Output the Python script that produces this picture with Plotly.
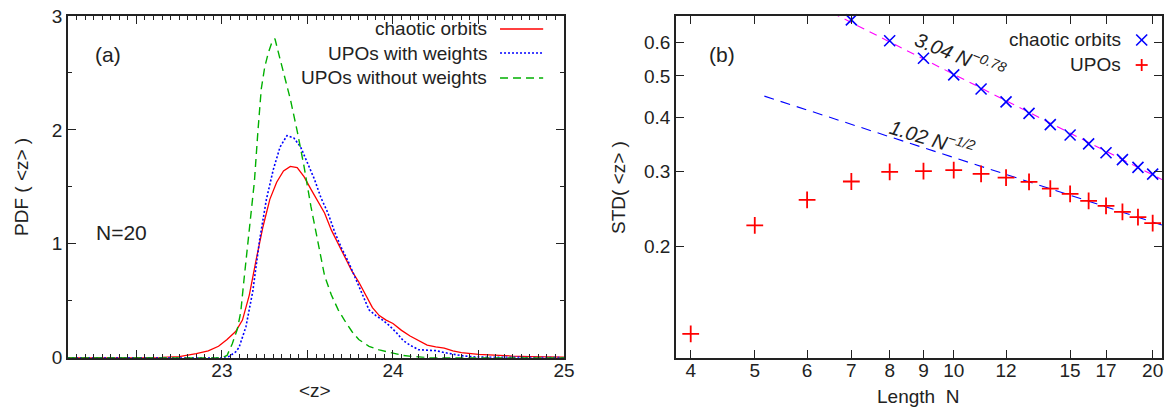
import numpy as np
import plotly.graph_objects as go

# ---------------- data: panel (a) PDF of <z>, N=20 ----------------
chaotic_z = [22.10, 22.50, 22.65, 22.75, 22.85, 22.92, 22.98, 23.03, 23.08, 23.12, 23.16, 23.20,
             23.24, 23.28, 23.32, 23.36, 23.40, 23.44, 23.48, 23.52, 23.56, 23.60, 23.64, 23.68,
             23.72, 23.76, 23.80, 23.84, 23.88, 23.92, 23.96, 24.00, 24.05, 24.10, 24.15, 24.20,
             24.25, 24.30, 24.35, 24.40, 24.50, 24.60, 24.70, 24.80, 24.90, 25.00]
chaotic_pdf = [0.0, 0.0, 0.003, 0.01, 0.035, 0.06, 0.10, 0.16, 0.23, 0.33, 0.55, 0.86,
               1.15, 1.39, 1.54, 1.64, 1.68, 1.67, 1.59, 1.48, 1.38, 1.27, 1.12, 1.00,
               0.88, 0.76, 0.665, 0.55, 0.44, 0.37, 0.33, 0.30, 0.24, 0.19, 0.15, 0.11,
               0.095, 0.085, 0.06, 0.045, 0.03, 0.02, 0.014, 0.01, 0.006, 0.004]

upo_w_z = [22.10, 23.00, 23.04, 23.08, 23.10, 23.14, 23.18, 23.22, 23.26, 23.30, 23.34, 23.38,
           23.42, 23.46, 23.50, 23.54, 23.58, 23.62, 23.66, 23.70, 23.74, 23.78, 23.82, 23.86,
           23.90, 23.94, 23.98, 24.02, 24.06, 24.10, 24.15, 24.20, 24.25, 24.30, 24.35, 24.40,
           24.45, 24.50, 25.00]
upo_w_pdf = [0.0, 0.0, 0.01, 0.05, 0.09, 0.27, 0.58, 1.03, 1.39, 1.65, 1.85, 1.95,
             1.93, 1.85, 1.71, 1.57, 1.40, 1.27, 1.10, 0.96, 0.84, 0.70, 0.56, 0.42,
             0.37, 0.33, 0.28, 0.22, 0.15, 0.11, 0.07, 0.065, 0.062, 0.045, 0.03, 0.018,
             0.01, 0.005, 0.0]

upo_nw_z = [22.10, 23.00, 23.03, 23.06, 23.09, 23.11, 23.13, 23.15, 23.17, 23.19, 23.21, 23.23,
            23.25, 23.27, 23.29, 23.31, 23.33, 23.36, 23.40, 23.44, 23.48, 23.52, 23.56, 23.60,
            23.64, 23.68, 23.72, 23.76, 23.80, 23.86, 23.92, 24.00, 24.06, 24.12, 24.20, 25.00]
upo_nw_pdf = [0.0, 0.0, 0.02, 0.12, 0.25, 0.40, 0.70, 0.98, 1.28, 1.55, 1.98, 2.36,
              2.55, 2.67, 2.76, 2.80, 2.68, 2.50, 2.27, 1.99, 1.68, 1.33, 1.02, 0.72,
              0.55, 0.42, 0.32, 0.23, 0.16, 0.10, 0.068, 0.04, 0.02, 0.01, 0.0, 0.0]

# ---------------- data: panel (b) STD vs length N ----------------
lengths = [4, 5, 6, 7, 8, 9, 10, 11, 12, 13, 14, 15, 16, 17, 18, 19, 20]
std_upo = [0.125, 0.224, 0.257, 0.2835, 0.2987, 0.2997, 0.3014, 0.2954, 0.2895, 0.283,
           0.273, 0.2652, 0.2556, 0.2488, 0.2409, 0.2341, 0.2267]
chaotic_lengths = [7, 8, 9, 10, 11, 12, 13, 14, 15, 16, 17, 18, 19, 20]
std_chaotic = [0.676, 0.604, 0.550, 0.503, 0.466, 0.435, 0.409, 0.385, 0.364, 0.347,
               0.331, 0.319, 0.306, 0.295]

fit_coef = [3.04, 1.02]
fit_exp = [-0.78, -0.5]
fit_start = [6.0, 5.17]

xb_tickvals = [4, 5, 6, 7, 8, 9, 10, 12, 15, 17, 20]
yb_tickvals = [0.2, 0.3, 0.4, 0.5, 0.6]

# ---------------- styling ----------------
FONT = "Liberation Sans, Arial, Helvetica, sans-serif"
TXT = "#222222"
RED = "#ff0000"
BLUE = "#0000ff"
GREEN = "#00b000"
MAGENTA = "#ff00ff"
FS = 19

XB_MAX = 20.66
XB_MIN = 3.80

fig = go.Figure()

fig.add_trace(go.Scatter(x=chaotic_z, y=chaotic_pdf, mode="lines",
                         line=dict(color=RED, width=1.3), xaxis="x", yaxis="y",
                         showlegend=False))
fig.add_trace(go.Scatter(x=upo_w_z, y=upo_w_pdf, mode="lines",
                         line=dict(color=BLUE, width=1.6, dash="2px,2px"), xaxis="x", yaxis="y",
                         showlegend=False))
fig.add_trace(go.Scatter(x=upo_nw_z, y=upo_nw_pdf, mode="lines",
                         line=dict(color=GREEN, width=1.4, dash="8px,5px"), xaxis="x", yaxis="y",
                         showlegend=False))

# fit lines (from the formulas printed in the chart)
fit_colors = [MAGENTA, BLUE]
fit_dash = ["8px,6px", "10px,7px"]
for c, e, s, col, d in zip(fit_coef, fit_exp, fit_start, fit_colors, fit_dash):
    nn = np.array([s, XB_MAX])
    fig.add_trace(go.Scatter(x=nn, y=c * nn ** e, mode="lines",
                             line=dict(color=col, width=1.1, dash=d),
                             xaxis="x2", yaxis="y2", showlegend=False))

fig.add_trace(go.Scatter(x=chaotic_lengths, y=std_chaotic, mode="markers",
                         marker=dict(symbol="x-thin-open", size=11, color=BLUE,
                                     line=dict(color=BLUE, width=1.6)),
                         xaxis="x2", yaxis="y2", showlegend=False, cliponaxis=False))
fig.add_trace(go.Scatter(x=lengths, y=std_upo, mode="markers",
                         marker=dict(symbol="cross-thin-open", size=12, color=RED,
                                     line=dict(color=RED, width=1.8)),
                         xaxis="x2", yaxis="y2", showlegend=False, cliponaxis=False))

axis_common = dict(showline=True, linecolor=TXT, linewidth=1.5, mirror="ticks",
                   ticks="inside", ticklen=8, tickwidth=1.2, tickcolor=TXT,
                   showgrid=False, zeroline=False, automargin=False,
                   tickfont=dict(family=FONT, size=FS, color=TXT))

Y0, Y1 = 1 - 357.7 / 412, 1 - 16 / 412

fig.update_layout(
    template="none",
    width=1164, height=412, autosize=False,
    margin=dict(l=0, r=0, t=0, b=0, pad=0),
    paper_bgcolor="white", plot_bgcolor="white",
    font=dict(family=FONT, size=FS, color=TXT),
    showlegend=False,
    xaxis=dict(domain=[68 / 1164, 564 / 1164], range=[22.1, 25], anchor="y",
               tickmode="array", tickvals=[22.5, 23, 23.5, 24, 24.5, 25],
               ticktext=["", "23", "", "24", "", "25"], ticklabelstandoff=-5,
               minor=dict(ticks="inside", dtick=0.05, tick0=0, ticklen=4,
                          tickwidth=1, tickcolor=TXT, showgrid=False),
               **axis_common),
    yaxis=dict(domain=[Y0, Y1], range=[0, 3], anchor="x", dtick=1, tick0=0,
               minor=dict(ticks="inside", dtick=0.5, ticklen=4, tickwidth=1,
                          tickcolor=TXT, showgrid=False),
               **axis_common),
    xaxis2=dict(domain=[676 / 1164, 1162 / 1164], type="log",
                range=[np.log10(XB_MIN), np.log10(XB_MAX)], anchor="y2",
                tickmode="array", tickvals=xb_tickvals, ticklabelstandoff=-5,
                ticktext=[str(v) for v in xb_tickvals], **axis_common),
    yaxis2=dict(domain=[Y0, Y1], type="log", range=[np.log10(0.110), np.log10(0.690)],
                anchor="x2", tickmode="array", tickvals=yb_tickvals,
                ticktext=[str(v) for v in yb_tickvals], **axis_common),
)


def txt(text, x, y, xref="paper", yref="paper", size=FS, angle=0, xanchor="center"):
    return dict(text=text, x=x, y=y, xref=xref, yref=yref, showarrow=False,
                xanchor=xanchor, yanchor="middle", textangle=angle,
                font=dict(family=FONT, size=size, color=TXT))


ann = []
# axis titles
ann.append(txt("PDF ( &lt;z&gt; )", 21 / 1164, 1 - 187 / 412, angle=-90))
ann.append(txt("&lt;z&gt;", 315 / 1164, 1 - 390 / 412))
ann.append(txt("STD( &lt;z&gt; )", 618 / 1164, 1 - 188 / 412, angle=-90))
ann.append(txt("Length  N", 918 / 1164, 1 - 396 / 412))
# panel labels
ann.append(txt("(a)", 0.0806, 0.886, "x domain", "y domain", size=21))
ann.append(txt("N=20", 0.108, 0.365, "x domain", "y domain", size=21))
ann.append(txt("(b)", 0.0947, 0.886, "x2 domain", "y2 domain", size=21))
# fit labels
ann.append(txt("<i>3.04 N</i><sup><i>−0.78</i></sup>", np.log10(10.23), np.log10(0.56),
               "x2", "y2", size=20, angle=22))
ann.append(txt("<i>1.02 N</i><sup><i>−1/2</i></sup>", np.log10(9.28), np.log10(0.360),
               "x2", "y2", size=20, angle=17))

# legend (a)
leg_a = [("chaotic orbits", RED, "solid", 1.3), ("UPOs with weights", BLUE, "2px,2px", 1.6),
         ("UPOs without weights", GREEN, "8px,5px", 1.4)]
leg_a_y = [0.962, 0.8917, 0.8186]
shapes = []
for (lab, col, d, w), yy in zip(leg_a, leg_a_y):
    ann.append(txt(lab, 0.849, yy, "x domain", "y domain", xanchor="right"))
    shapes.append(dict(type="line", xref="x domain", yref="y domain", x0=0.871, x1=0.958,
                       y0=yy, y1=yy, line=dict(color=col, width=w, dash=d)))

# legend (b)
leg_b_y = [0.9298, 0.8566]
ann.append(txt("chaotic orbits", 0.9198, leg_b_y[0], "x2 domain", "y2 domain", xanchor="right"))
ann.append(txt("UPOs", 0.9198, leg_b_y[1], "x2 domain", "y2 domain", xanchor="right"))
mx = 0.9582
hx = 5.5 / 486
hy = 5.5 / 341.7
shapes.append(dict(type="line", xref="x2 domain", yref="y2 domain", x0=mx - hx, x1=mx + hx,
                   y0=leg_b_y[0] - hy, y1=leg_b_y[0] + hy, line=dict(color=BLUE, width=1.6)))
shapes.append(dict(type="line", xref="x2 domain", yref="y2 domain", x0=mx - hx, x1=mx + hx,
                   y0=leg_b_y[0] + hy, y1=leg_b_y[0] - hy, line=dict(color=BLUE, width=1.6)))
hx2 = 6 / 486
hy2 = 6 / 341.7
shapes.append(dict(type="line", xref="x2 domain", yref="y2 domain", x0=mx - hx2, x1=mx + hx2,
                   y0=leg_b_y[1], y1=leg_b_y[1], line=dict(color=RED, width=1.8)))
shapes.append(dict(type="line", xref="x2 domain", yref="y2 domain", x0=mx, x1=mx,
                   y0=leg_b_y[1] - hy2, y1=leg_b_y[1] + hy2, line=dict(color=RED, width=1.8)))

fig.update_layout(annotations=ann, shapes=shapes)

fig.write_html(
    "out.html",
    config={"displayModeBar": False, "responsive": False},
    post_script="document.body.style.margin='0';document.body.style.padding='0';"
                "document.body.style.overflow='hidden';",
)
